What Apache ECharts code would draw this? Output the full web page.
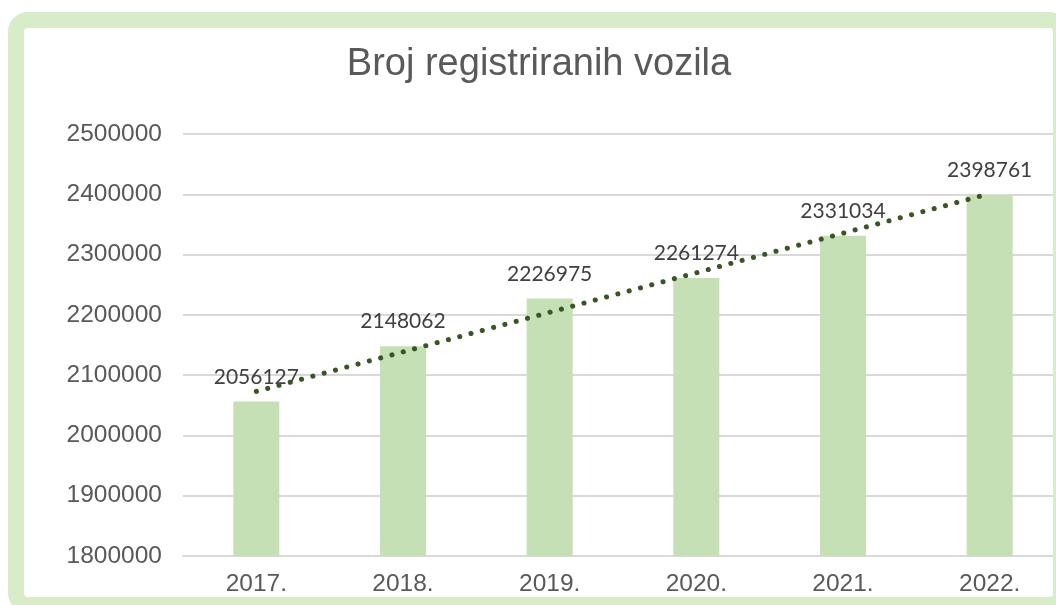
<!DOCTYPE html>
<html>
<head>
<meta charset="utf-8">
<script src="https://cdn.jsdelivr.net/npm/echarts@6/dist/echarts.min.js"></script>
<style>
html,body{margin:0;padding:0;background:#fff;overflow:hidden;width:1056px;height:605px;}
#chart{width:1072px;height:605px;}
</style>
</head>
<body>
<div id="chart"></div>
<script>
const titleText = 'Broj registriranih vozila';
const categories = ['2017.', '2018.', '2019.', '2020.', '2021.', '2022.'];
const vehicles = [2056127, 2148062, 2226975, 2261274, 2331034, 2398761];
const yMin = 1800000, yMax = 2500000, yStep = 100000;

// Linear trendline (least squares fit of the data, as in the original spreadsheet chart)
function linearTrend(vals) {
  const n = vals.length;
  const mx = (n - 1) / 2;
  const my = vals.reduce((a, b) => a + b, 0) / n;
  let sxy = 0, sxx = 0;
  vals.forEach((v, i) => { sxy += (i - mx) * (v - my); sxx += (i - mx) * (i - mx); });
  const k = sxy / sxx;
  return vals.map((v, i) => my + k * (i - mx));
}
const trend = linearTrend(vehicles);

const chart = echarts.init(document.getElementById('chart'), null, {renderer: 'canvas'});
const sans = '"Liberation Sans", Arial, sans-serif';
chart.setOption({
  animation: false,
  backgroundColor: '#ffffff',
  title: {
    text: titleText,
    left: 534,
    top: 41,
    textAlign: 'center',
    textStyle: {fontFamily: sans, fontSize: 38, fontWeight: 'normal', color: '#595959'}
  },
  grid: {left: 183, top: 134, width: 880, height: 422, containLabel: false},
  xAxis: {
    type: 'category',
    data: categories,
    boundaryGap: true,
    axisTick: {show: false},
    axisLine: {lineStyle: {color: '#d9d9d9', width: 2}},
    axisLabel: {fontFamily: sans, fontSize: 24.5, color: '#595959', margin: 16}
  },
  yAxis: {
    type: 'value',
    min: yMin, max: yMax, interval: yStep,
    axisLine: {show: false},
    axisTick: {show: false},
    splitLine: {lineStyle: {color: '#d9d9d9', width: 2}},
    axisLabel: {fontFamily: sans, fontSize: 24.5, color: '#595959', margin: 21, formatter: v => String(v)}
  },
  series: [
    {
      type: 'bar',
      data: vehicles,
      barWidth: 46,
      itemStyle: {color: '#c5e0b4'},
      label: {
        show: true, position: 'top', distance: 14,
        formatter: p => String(p.value),
        fontFamily: 'Lato, "Open Sans", sans-serif', fontSize: 21, color: '#404040'
      },
      z: 2
    },
    {
      type: 'line',
      data: trend,
      symbol: 'none',
      silent: true,
      lineStyle: {color: '#375623', width: 5, type: [0.1, 11.6], cap: 'round'},
      z: 3
    }
  ],
  graphic: [
    {
      type: 'rect',
      z: 100,
      silent: true,
      shape: {x: 16, y: 20, width: 1045, height: 585, r: 12},
      style: {fill: 'none', stroke: '#d9ecc9', lineWidth: 16}
    }
  ]
});
</script>
</body>
</html>
